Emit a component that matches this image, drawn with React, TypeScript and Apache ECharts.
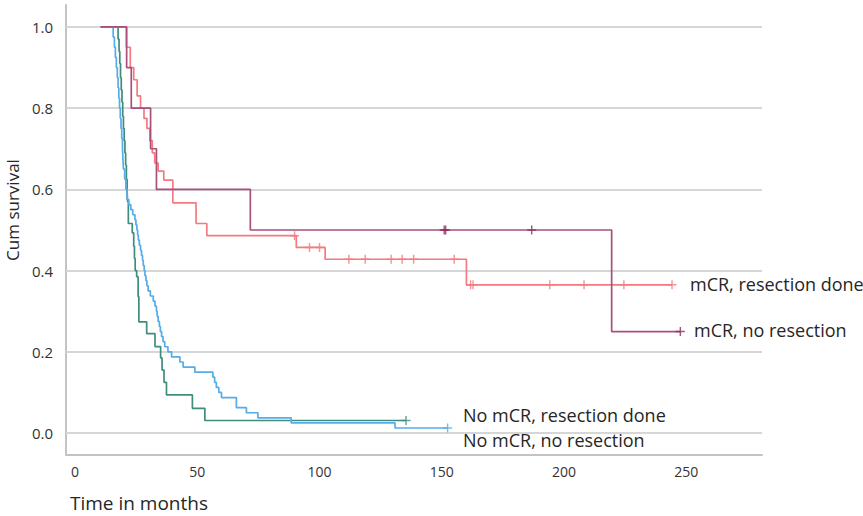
import React, { useEffect, useRef } from "react";
import * as echarts from "echarts";

// Tick values
const X_TICKS = [0, 50, 100, 150, 200, 250];
const Y_TICKS = [0, 0.2, 0.4, 0.6, 0.8, 1.0];

// Kaplan–Meier steps: [time in months, cumulative survival after the event]
const MCR_NO_RESECTION: [number, number][] = [
  [10.5, 1.0], [21.1, 0.9], [23.0, 0.8], [30.9, 0.7], [33.3, 0.6],
  [71.7, 0.5], [219.5, 0.25], [247.6, 0.25],
];
const MCR_NO_RESECTION_CENSOR: [number, number][] = [
  [151.0, 0.5], [151.6, 0.5], [186.8, 0.5], [247.6, 0.25],
];

const MCR_RESECTION: [number, number][] = [
  [10.5, 1.0], [21.0, 0.95], [22.6, 0.9], [24.0, 0.87], [25.4, 0.83],
  [26.8, 0.8], [28.2, 0.775], [29.4, 0.75], [30.6, 0.72], [31.6, 0.69],
  [32.6, 0.665], [34.0, 0.645], [36.3, 0.623], [40.0, 0.567], [49.5, 0.516],
  [53.9, 0.486], [90.5, 0.457], [102.3, 0.428], [160.1, 0.365], [244.2, 0.365],
];
const MCR_RESECTION_CENSOR: [number, number][] = [
  [89.8, 0.486], [95.9, 0.457], [100.0, 0.457], [112.0, 0.428], [118.7, 0.428],
  [129.3, 0.428], [133.8, 0.428], [138.5, 0.428], [155.1, 0.428], [161.8, 0.365],
  [162.8, 0.365], [194.2, 0.365], [208.2, 0.365], [224.5, 0.365], [244.2, 0.365],
];

const NOMCR_RESECTION: [number, number][] = [
  [10.5, 1.0], [17.6, 0.97], [18.0, 0.94], [18.3, 0.91], [18.6, 0.875],
  [18.9, 0.845], [19.2, 0.815], [19.5, 0.78], [19.8, 0.75], [20.1, 0.72],
  [20.4, 0.69], [20.7, 0.66], [21.0, 0.625], [21.3, 0.595], [21.5, 0.57],
  [21.8, 0.516], [23.4, 0.493], [24.0, 0.46], [24.3, 0.43], [24.6, 0.4],
  [25.2, 0.385], [25.8, 0.336], [26.1, 0.274], [29.3, 0.245], [32.7, 0.213],
  [35.0, 0.185], [35.6, 0.155], [36.4, 0.125], [37.4, 0.094], [48.0, 0.061],
  [53.1, 0.031], [135.4, 0.031],
];
const NOMCR_RESECTION_CENSOR: [number, number][] = [[135.4, 0.031]];

const NOMCR_NO_RESECTION: [number, number][] = [
  [10.5, 1.0], [15.6, 0.975], [16.1, 0.95], [16.5, 0.925], [16.9, 0.9],
  [17.3, 0.875], [17.6, 0.85], [17.9, 0.825], [18.2, 0.8], [18.5, 0.775],
  [18.8, 0.75], [19.1, 0.725], [19.4, 0.7], [19.6, 0.675], [19.8, 0.65],
  [20.3, 0.625], [20.8, 0.6], [21.3, 0.575], [22.0, 0.5625], [22.8, 0.55],
  [23.6, 0.5375], [24.5, 0.525], [24.9, 0.5125], [25.3, 0.5], [25.6, 0.4875],
  [25.9, 0.475], [26.3, 0.4625], [26.8, 0.45], [27.2, 0.4375], [27.6, 0.425],
  [27.9, 0.4125], [28.3, 0.4], [28.6, 0.3875], [29.0, 0.375], [29.4, 0.3625],
  [29.9, 0.35], [30.8, 0.3375], [32.0, 0.325], [32.7, 0.3125], [33.3, 0.3],
  [33.6, 0.2875], [34.0, 0.275], [34.5, 0.2625], [34.9, 0.25], [35.4, 0.2375],
  [36.0, 0.225], [36.7, 0.2125], [38.0, 0.2], [39.5, 0.1875], [42.9, 0.175],
  [44.2, 0.1625], [49.0, 0.15], [56.4, 0.1375], [57.1, 0.125], [57.8, 0.1125],
  [58.8, 0.1], [59.9, 0.0875], [66.0, 0.0625], [70.1, 0.05], [74.8, 0.0375],
  [88.4, 0.025], [130.9, 0.0125], [152.4, 0.0125],
];
const NOMCR_NO_RESECTION_CENSOR: [number, number][] = [[152.4, 0.0125]];

const FONT = "'Open Sans', 'Noto Sans', sans-serif";
const PLUS = "path://M0,4.2H10V5.8H0Z M4.2,0H5.8V10H4.2Z";

const C_PURPLE = "#a94f7b";
const C_PURPLE_MARK = "#8c2b5b";
const C_RED = "#f37a7e";
const C_GREEN = "#3f8d7c";
const C_BLUE = "#55ace6";

function curve(name: string, data: [number, number][], color: string, z: number) {
  return {
    name,
    type: "line",
    step: "end",
    data,
    showSymbol: false,
    symbol: "none",
    silent: true,
    z,
    lineStyle: { color, width: 1.7 },
  };
}

function censor(name: string, data: [number, number][], color: string, z: number) {
  return {
    name,
    type: "scatter",
    data,
    symbol: PLUS,
    symbolSize: 9,
    silent: true,
    z,
    itemStyle: { color },
  };
}

export default function App() {
  const ref = useRef<HTMLDivElement>(null);
  useEffect(() => {
    if (!ref.current) return;
    const chart = echarts.init(ref.current, undefined, { renderer: "svg" });
    const option: any = {
      animation: false,
      backgroundColor: "#ffffff",
      grid: { left: 66, right: 101, top: 5, bottom: 61, containLabel: false },
      xAxis: {
        type: "value",
        min: -3.7,
        max: 281,
        axisLine: { show: true, onZero: false, lineStyle: { color: "#c4c4c4", width: 2 } },
        axisTick: { show: false },
        splitLine: { show: false },
        axisLabel: {
          customValues: X_TICKS,
          margin: 9,
          fontSize: 14,
          color: "#333333",
          fontFamily: FONT,
        },
      },
      yAxis: {
        type: "value",
        min: -0.054,
        max: 1.054,
        axisLine: { show: true, onZero: false, lineStyle: { color: "#c4c4c4", width: 2 } },
        axisTick: { show: false },
        splitLine: { show: false },
        axisLabel: {
          customValues: Y_TICKS,
          formatter: (v: number) => v.toFixed(1),
          margin: 13,
          fontSize: 15,
          color: "#333333",
          fontFamily: FONT,
        },
      },
      series: [
        {
          name: "grid",
          type: "line",
          data: [],
          silent: true,
          z: 1,
          markLine: {
            silent: true,
            z: 1,
            symbol: ["none", "none"],
            label: { show: false },
            lineStyle: { color: "#d6d6d6", width: 2, type: "solid" },
            data: Y_TICKS.map((v) => ({ yAxis: v })),
          },
        },
        curve("No mCR, resection done", NOMCR_RESECTION, C_GREEN, 3),
        curve("No mCR, no resection", NOMCR_NO_RESECTION, C_BLUE, 3),
        curve("mCR, resection done", MCR_RESECTION, C_RED, 3),
        curve("mCR, no resection", MCR_NO_RESECTION, C_PURPLE, 3),
        censor("c1", NOMCR_RESECTION_CENSOR, C_GREEN, 4),
        censor("c2", NOMCR_NO_RESECTION_CENSOR, C_BLUE, 4),
        censor("c3", MCR_RESECTION_CENSOR, C_RED, 4),
        censor("c4", MCR_NO_RESECTION_CENSOR, C_PURPLE_MARK, 4),
      ],
      graphic: [
        {
          type: "text",
          x: 690,
          y: 284,
          style: { text: "mCR, resection done", font: `18px ${FONT}`, fill: "#262626", verticalAlign: "middle" },
        },
        {
          type: "text",
          x: 694,
          y: 330,
          style: { text: "mCR, no resection", font: `18px ${FONT}`, fill: "#262626", verticalAlign: "middle" },
        },
        {
          type: "text",
          x: 463,
          y: 415,
          style: { text: "No mCR, resection done", font: `18px ${FONT}`, fill: "#262626", verticalAlign: "middle" },
        },
        {
          type: "text",
          x: 463,
          y: 440,
          style: { text: "No mCR, no resection", font: `18px ${FONT}`, fill: "#262626", verticalAlign: "middle" },
        },
        {
          type: "text",
          x: 70,
          y: 503,
          style: { text: "Time in months", font: `19px ${FONT}`, fill: "#262626", verticalAlign: "middle" },
        },
        {
          type: "text",
          x: 12,
          y: 210,
          rotation: Math.PI / 2,
          style: {
            text: "Cum survival",
            font: `17px ${FONT}`,
            fill: "#262626",
            align: "center",
            verticalAlign: "middle",
          },
        },
      ],
    };
    chart.setOption(option);
    return () => chart.dispose();
  }, []);
  return (
    <div
      ref={ref}
      style={{ position: "fixed", left: 0, top: 0, width: 863, height: 516 }}
    />
  );
}
